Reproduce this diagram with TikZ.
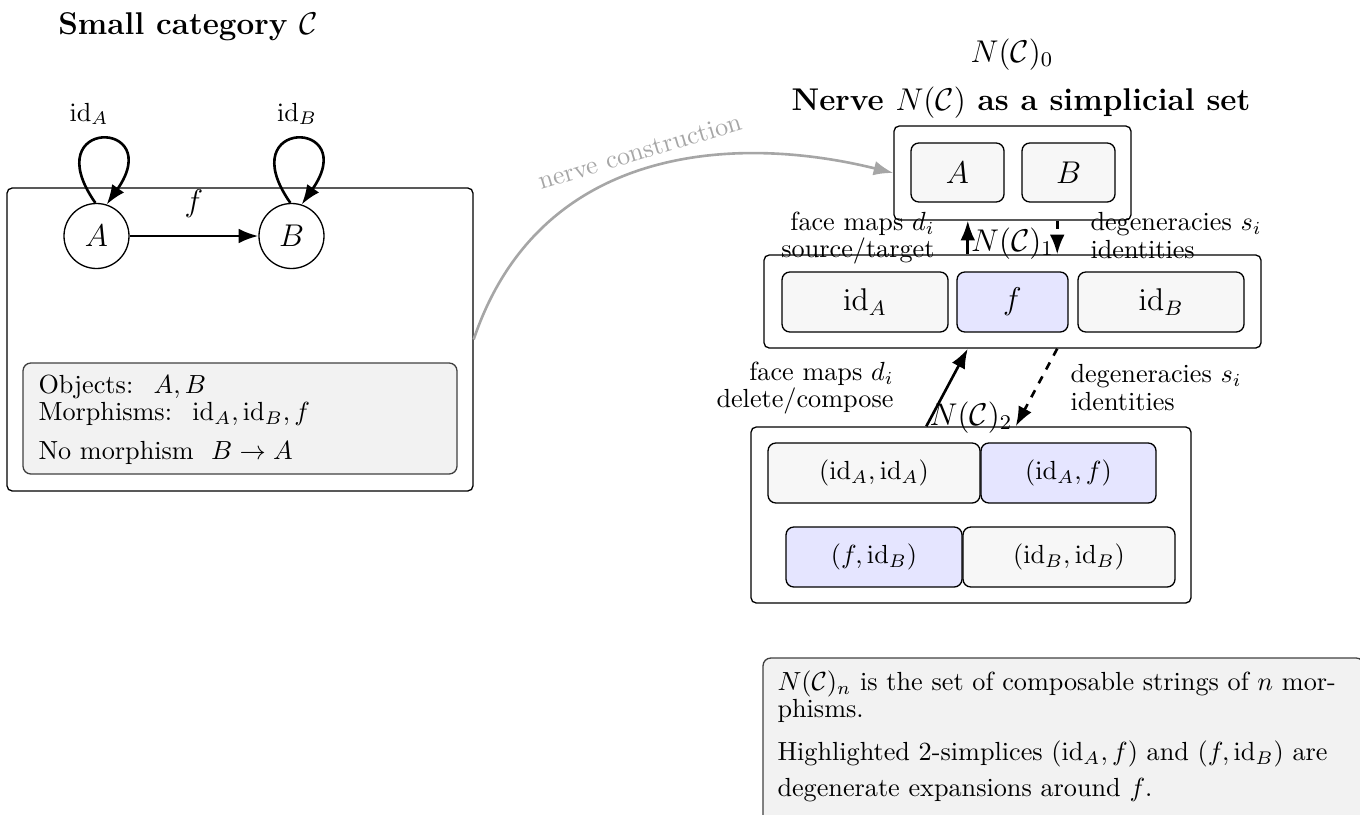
\documentclass[tikz,border=0pt]{standalone}
\usetikzlibrary{arrows.meta}
\def\PX{0.38168pt}
\begin{document}
\begin{tikzpicture}[x=0.38168pt,y=-0.38168pt,
  frame/.style={draw=black, rounded corners=2pt, inner sep=0pt, line width=0.5pt},
  cell/.style={draw=black, fill=black!3, rounded corners=3pt, inner sep=0pt, line width=0.5pt, font=\large},
  hcell/.style={cell, fill=blue!10},
  scell/.style={cell, font=\normalsize},
  shcell/.style={hcell, font=\normalsize},
  notebox/.style={draw=black!75, fill=black!5, rounded corners=3pt, inner sep=0pt, line width=0.5pt},
  obj/.style={circle, draw, line width=0.5pt, inner sep=0pt, minimum size=65*\PX, font=\large},
  arr/.style={-{Latex[length=7.5pt,width=5.6pt]}, line width=1pt},
  darr/.style={arr, dashed},
  garr/.style={-{Latex[length=7.5pt,width=5.6pt]}, line width=1pt, draw=black!35},
  ttl/.style={font=\large\bfseries, anchor=base, inner sep=0pt},
  lvl/.style={font=\large, anchor=base, inner sep=0pt},
  txt/.style={inner sep=0pt, align=left}
]
\useasboundingbox (0,0) rectangle (1360,814);

% ---------- left: the category ----------
\node[ttl] (t1) at (188,35) {Small category $\mathcal{C}$};
\node[frame, minimum width=466*\PX, minimum height=303*\PX] (big) at (240,339.5) {};
\node[obj] (A) at (96.5,236) {$A$};
\node[obj] (B) at (291.5,236) {$B$};
\draw[arr] (A) -- node[above=3pt, font=\large] (fl) {$f$} (B);
\draw[arr] (A.92) .. controls +(125:40pt) and +(55:40pt) .. (A.72);
\draw[arr] (B.92) .. controls +(125:40pt) and +(55:40pt) .. (B.72);
\node[anchor=base, inner sep=0pt] (ida) at (89,121) {$\mathrm{id}_A$};
\node[anchor=base, inner sep=0pt] (idb) at (297,121) {$\mathrm{id}_B$};
\node[notebox, minimum width=434*\PX, minimum height=111*\PX] (note1) at (240,418.5) {};
\node[txt, anchor=north west] (note1t) at (38,375)
  {Objects: \ $A, B$\\[-2pt]
   Morphisms: \ $\mathrm{id}_A, \mathrm{id}_B, f$\\[3pt]
   No morphism \ $B \to A$};

% ---------- right: the nerve ----------
\node[lvl] (n0l) at (1012,62) {$N(\mathcal{C})_0$};
\node[ttl] (t2) at (1021,110) {Nerve $N(\mathcal{C})$ as a simplicial set};

\node[frame, minimum width=237*\PX, minimum height=94*\PX] (N0) at (1012.5,173) {};
\node[cell, minimum width=93*\PX, minimum height=59*\PX] (N0A) at (957.5,172.5) {$A$};
\node[cell, minimum width=93*\PX, minimum height=59*\PX] (N0B) at (1068.5,172.5) {$B$};

\node[frame, minimum width=497*\PX, minimum height=93*\PX] (N1) at (1012.5,301.5) {};
\node[cell, minimum width=166*\PX, minimum height=60*\PX] (N1a) at (865,302) {$\mathrm{id}_A$};
\node[hcell, minimum width=111*\PX, minimum height=60*\PX] (N1f) at (1012.5,302) {$f$};
\node[cell, minimum width=166*\PX, minimum height=60*\PX] (N1b) at (1161,302) {$\mathrm{id}_B$};
\node[lvl] (n1l) at (1012.5,251) {$N(\mathcal{C})_1$};

\draw[arr] ([xshift=-0.6cm]N1.north) -- ([xshift=-0.6cm]N0.south);
\draw[darr] ([xshift=0.6cm]N0.south) -- ([xshift=0.6cm]N1.north);
\node[txt, align=right, anchor=north east] (face1) at (935,212)
  {face maps $d_i$\\[-2pt]source/target};
\node[txt, anchor=north west] (deg1) at (1090,212)
  {degeneracies $s_i$\\[-1.5pt]identities};

\node[frame, minimum width=440*\PX, minimum height=176*\PX] (N2) at (971,515) {};
\node[scell, minimum width=212*\PX, minimum height=60*\PX] (r1a) at (874,473) {$(\mathrm{id}_A, \mathrm{id}_A)$};
\node[shcell, minimum width=175*\PX, minimum height=60*\PX] (r1b) at (1068.5,473) {$(\mathrm{id}_A, f)$};
\node[shcell, minimum width=176*\PX, minimum height=60*\PX] (r2a) at (874,557) {$(f, \mathrm{id}_B)$};
\node[scell, minimum width=212*\PX, minimum height=60*\PX] (r2b) at (1069,557) {$(\mathrm{id}_B, \mathrm{id}_B)$};
\node[lvl] (n2l) at (971,425) {$N(\mathcal{C})_2$};

\draw[arr] ([xshift=-0.6cm]N2.north) -- ([xshift=-0.6cm]N1.south);
\draw[darr] ([xshift=0.6cm]N1.south) -- ([xshift=0.6cm]N2.north);
\node[txt, align=right, anchor=north east] (face2) at (894,362)
  {face maps $d_i$\\[-2pt]delete/compose};
\node[txt, anchor=north west] (deg2) at (1070,364)
  {degeneracies $s_i$\\[-1.5pt]identities};

% ---------- nerve construction arrow ----------
\draw[garr] (big.east) .. controls (540,143) and (737.6,134.3) .. (N0.west)
  node[pos=0.49, sloped, above, text=black!35] (nc) {nerve construction};

% ---------- bottom note ----------
\node[notebox, minimum width=601*\PX, minimum height=172*\PX] (note2) at (1063.5,744) {};
\node[txt, anchor=north west] (note2t) at (777,670)
  {$N(\mathcal{C})_n$ is the set of composable strings of $n$ mor-\\[-1.5pt]
   phisms.\\[4.5pt]
   Highlighted 2-simplices $(\mathrm{id}_A, f)$ and $(f, \mathrm{id}_B)$ are\\[1.7pt]
   degenerate expansions around $f$.};
\end{tikzpicture}
\end{document}
